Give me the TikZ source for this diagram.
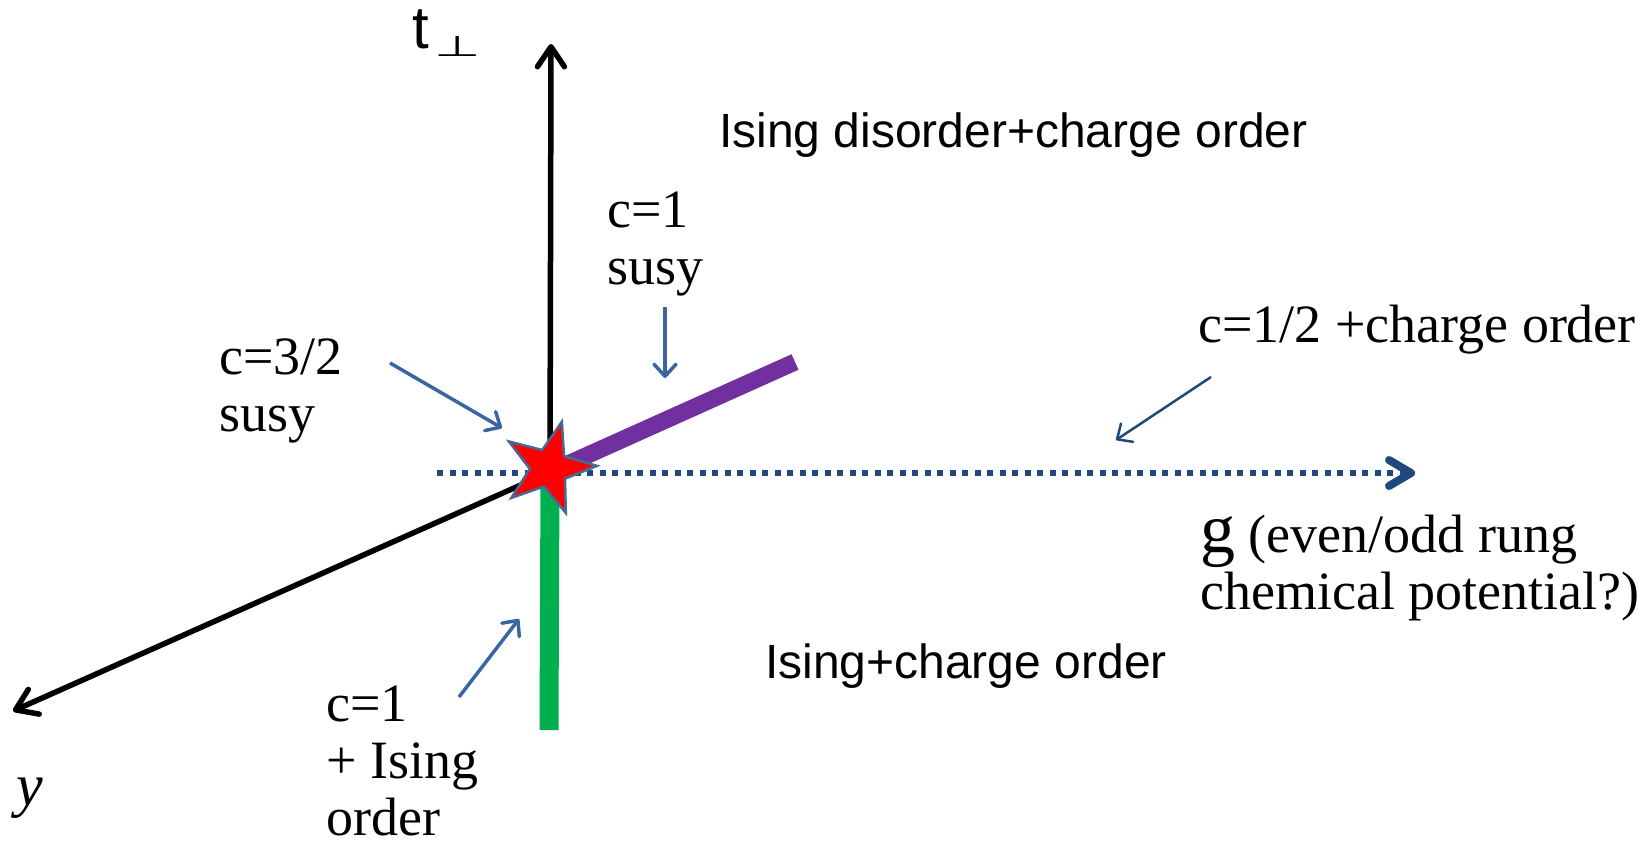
\documentclass[tikz,border=0pt]{standalone}
\usepackage{fontspec}
\usepackage{graphicx}
\setmainfont{Liberation Serif}
\newfontfamily\labelsans{Liberation Sans}
\newfontfamily\symsans{DejaVu Sans}
\usetikzlibrary{arrows.meta,shapes.geometric}

\definecolor{susypurple}{RGB}{112,48,160}
\definecolor{isinggreen}{RGB}{0,176,80}
\definecolor{gaxisblue}{RGB}{31,73,125}
\definecolor{noteblue}{RGB}{58,101,160}
\definecolor{starrim}{RGB}{70,105,150}

\newcommand{\seriftext}{\fontsize{54}{57}\selectfont}
\newcommand{\sanstext}{\labelsans\fontsize{48}{56}\selectfont}

\begin{document}
\begin{tikzpicture}[x=1pt,y=-1pt,
  axis/.style={line width=5.5pt,-{Straight Barb[length=20pt,width=27pt,round]}},
  note/.style={noteblue,line width=3.5pt,-{Straight Barb[length=12pt,width=22pt,round]}},
  serif/.style={anchor=base west,inner sep=0pt,align=left,font=\seriftext},
  region/.style={anchor=base west,inner sep=0pt,font=\sanstext}]
\useasboundingbox (0,0) rectangle (1651,844);

\coordinate (O) at (550,472);
\coordinate (ttop) at (551,44);
\coordinate (yend) at (13,711);
\coordinate (gstart) at (437,473);
\coordinate (gend) at (1415,473);
\coordinate (purpleend) at (795,362);
\coordinate (greenend) at (549,730);

\draw[axis] (O) -- (ttop);
\draw[axis] (O) -- (yend);
\draw[susypurple,line width=17pt] (O) -- (purpleend);
\draw[isinggreen,line width=19pt] (O) -- (greenend);
\draw[gaxisblue,line width=6pt,dash pattern=on 6pt off 6.5pt,
  -{Straight Barb[length=22pt,width=26pt,line width=8pt,round]}] (gstart) -- (gend);
\node[star,star points=5,star point ratio=2.5,minimum size=96pt,inner sep=0pt,
  rotate=-15.5,fill=red,draw=starrim,line width=2.5pt] (star) at (549,468) {};

\node[anchor=base west,inner sep=0pt,font=\labelsans\fontsize{60}{60}\selectfont] (tname) at (412,48)
  {t\kern6pt\raisebox{-8pt}{\scalebox{1.4}[0.75]{\symsans\fontsize{38}{38}\selectfont ⊥}}};
\node[anchor=base west,inner sep=0pt,font=\fontsize{60}{60}\selectfont] (yname) at (16,805) {\textit{y}};

\node[region] (disorder) at (719,147) {Ising disorder+charge order};
\node[region] (isingcharge) at (765,678) {Ising+charge order};

\node[serif] (c1susy) at (607,284) {c=1\\susy};
\node[serif] (c32susy) at (219,431) {c=3/2\\susy};
\node[serif] (chalf) at (1198,342) {c=1/2 +charge order};
\node[serif] (glabel) at (1200,609) {{\fontsize{70}{70}\selectfont g} (even/odd rung\\chemical potential?)};
\node[serif] (c1ising) at (326,835) {c=1\\+ Ising\\order};

\coordinate (c1from) at (665,307);
\coordinate (c1to) at (665,378);
\coordinate (c32from) at (390,363);
\coordinate (c32to) at (502,428);
\coordinate (chalffrom) at (1211,377);
\coordinate (chalfto) at (1116,440);
\coordinate (isingfrom) at (459,697);
\coordinate (isingto) at (519,619);

\draw[note] (c1from) -- (c1to);
\draw[note] (c32from) -- (c32to);
\draw[note,gaxisblue,line width=2.5pt] (chalffrom) -- (chalfto);
\draw[note] (isingfrom) -- (isingto);
\end{tikzpicture}
\end{document}
